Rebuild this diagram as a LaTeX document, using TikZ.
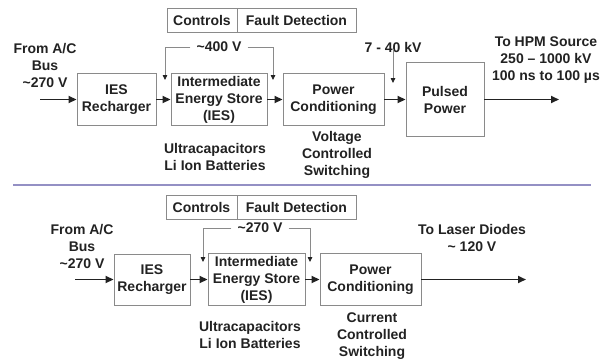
\documentclass[tikz,border=0pt]{standalone}
\usepackage{fontspec}
\setmainfont{Liberation Sans}
\usetikzlibrary{arrows.meta}
\definecolor{boxgray}{HTML}{8A8A8A}
\definecolor{txt}{HTML}{222222}
\definecolor{sep}{HTML}{9490C4}
\begin{document}
\begin{tikzpicture}[x=1pt,y=-1pt,
  every node/.style={font=\fontsize{14}{17}\selectfont\bfseries, text=txt},
  blk/.style={draw=boxgray, line width=0.9pt, rectangle, align=center, inner sep=0pt},
  lbl/.style={align=center, inner sep=0pt},
  mainarrow/.style={draw=txt, line width=1.7pt, -{Triangle[length=8pt,width=7pt]}},
  fb/.style={draw=boxgray, line width=0.8pt, -{Triangle[length=5pt,width=4.5pt,color=txt]}},
  thinarrow/.style={draw=boxgray, line width=0.8pt, -{Triangle[length=5pt,width=4.5pt,color=txt]}}]
\useasboundingbox (0,0) rectangle (608,360);
\fill[white] (0,0) rectangle (608,360);

% ---------------- top ----------------
\node[blk, minimum width=70pt, minimum height=24pt] (ctl1) at (202,20) {Controls};
\node[blk, minimum width=119pt, minimum height=24pt] (fd1) at (296.5,20) {Fault Detection};

\node[lbl] (from1) at (45,65) {From A/C\\Bus\\\textasciitilde270 V};
\coordinate (in1) at (40,99.5);
\node[blk, minimum width=79pt, minimum height=52pt] (rech1) at (116.5,99.5) {IES\\Recharger};
\node[blk, minimum width=96pt, minimum height=52pt] (ies1) at (219,99.5) {Intermediate\\Energy Store\\(IES)};
\node[blk, minimum width=101pt, minimum height=52pt] (pc1) at (333.5,99.5) {Power\\Conditioning};
\node[blk, minimum width=78pt, minimum height=74pt] (pp1) at (445,99.5) {Pulsed\\Power};
\coordinate (out1) at (559,99.5);

\draw[mainarrow] (in1) -- (rech1.west);
\draw[mainarrow] (rech1.east) -- (ies1.west);
\draw[mainarrow] (ies1.east) -- (pc1.west);
\draw[mainarrow] (pc1.east) -- (pp1.west);
\draw[mainarrow] (pp1.east) -- (out1);

\node[lbl] (v400) at (219,47) {\textasciitilde400 V};
\coordinate (fb1a) at (165,80);
\coordinate (fb1b) at (273,80);
\draw[fb] ([xshift=-6pt]v400.west) -| (fb1a);
\draw[fb] ([xshift=6pt]v400.east) -| (fb1b);

\node[lbl] (kv) at (393,47) {7 - 40 kV};
\coordinate (kvend) at (393,83);
\draw[thinarrow] ([yshift=3pt]kv.south) -- (kvend);

\node[lbl] (hpm) at (546,60) {To HPM Source\\250 – 1000 kV\\100 ns to 100 µs};
\node[lbl] (ultra1) at (215,157) {Ultracapacitors\\Li Ion Batteries};
\node[lbl] (volt) at (337,155) {Voltage\\Controlled\\Switching};

% ---------------- separator ----------------
\coordinate (sepL) at (13,185);
\coordinate (sepR) at (591,185);
\draw[sep, line width=2pt] (sepL) -- (sepR);

% ---------------- bottom ----------------
\node[blk, minimum width=71pt, minimum height=24pt] (ctl2) at (201.5,207) {Controls};
\node[blk, minimum width=119pt, minimum height=24pt] (fd2) at (296.5,207) {Fault Detection};

\node[lbl] (from2) at (82,246) {From A/C\\Bus\\\textasciitilde270 V};
\coordinate (in2) at (75,279.5);
\node[blk, minimum width=76pt, minimum height=51pt] (rech2) at (152,279.5) {IES\\Recharger};
\node[blk, minimum width=97pt, minimum height=52pt] (ies2) at (256.5,279.5) {Intermediate\\Energy Store\\(IES)};
\node[blk, minimum width=101pt, minimum height=52pt] (pc2) at (370.5,279.5) {Power\\Conditioning};
\coordinate (out2) at (526,279.5);

\draw[mainarrow] (in2) -- (rech2.west);
\draw[mainarrow] (rech2.east) -- (ies2.west);
\draw[mainarrow] (ies2.east) -- (pc2.west);
\draw[mainarrow] (pc2.east) -- (out2);

\node[lbl] (v270) at (260,228) {\textasciitilde270 V};
\coordinate (fb2a) at (203,262);
\coordinate (fb2b) at (310,262);
\draw[fb] ([xshift=-6pt]v270.west) -| (fb2a);
\draw[fb] ([xshift=6pt]v270.east) -| (fb2b);

\node[lbl] (laser) at (472,237.5) {To Laser Diodes\\\textasciitilde{} 120 V};
\node[lbl] (ultra2) at (250,334.5) {Ultracapacitors\\Li Ion Batteries};
\node[lbl] (curr) at (372,336) {Current\\Controlled\\Switching};
\end{tikzpicture}
\end{document}
